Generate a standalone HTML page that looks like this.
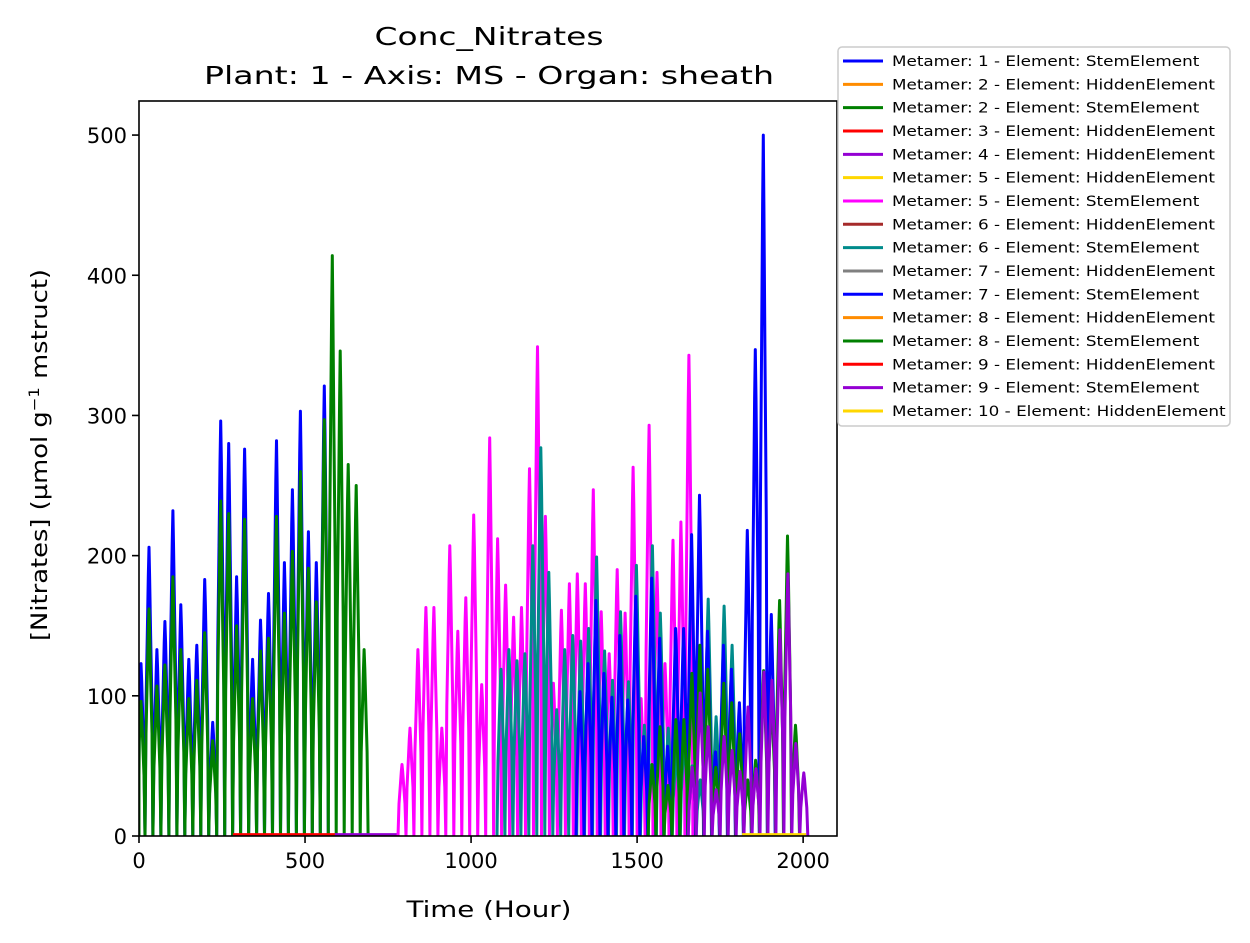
<!DOCTYPE html>
<html><head><meta charset="utf-8"><style>
body{margin:0;background:#fff;}
svg{display:block;font-family:"DejaVu Sans","Liberation Sans",sans-serif;}
</style></head><body>
<svg id="chart" width="1250" height="943" viewBox="0 0 1250 943" xmlns="http://www.w3.org/2000/svg">
<rect width="1250" height="943" fill="#fff"/>
<text x="489" y="45" text-anchor="middle" font-size="25" textLength="229" lengthAdjust="spacingAndGlyphs">Conc_Nitrates</text>
<text x="489" y="84" text-anchor="middle" font-size="25" textLength="570" lengthAdjust="spacingAndGlyphs">Plant: 1 - Axis: MS - Organ: sheath</text>
<defs><clipPath id="pc"><rect x="139" y="101" width="698" height="735"/></clipPath></defs>
<g id="series" clip-path="url(#pc)"></g>
<rect x="139" y="101" width="698" height="735" fill="none" stroke="#000" stroke-width="1.6"/>
<g id="axes"></g>
<text x="489" y="917" text-anchor="middle" font-size="22" textLength="165" lengthAdjust="spacingAndGlyphs">Time (Hour)</text>
<text transform="translate(47,455) rotate(-90)" text-anchor="middle" font-size="22" textLength="372" lengthAdjust="spacingAndGlyphs">[Nitrates] (µmol g<tspan dy="-8" font-size="14">−1</tspan><tspan dy="8"> mstruct)</tspan></text>
<rect x="838" y="47" width="392" height="379" rx="4" fill="#fff" stroke="#ccc" stroke-width="1.5"/>
<g id="legend"></g>
</svg>
<script>
const xTicks=[0,500,1000,1500,2000];
const yTicks=[0,100,200,300,400,500];
const legendLabels=["Metamer: 1 - Element: StemElement","Metamer: 2 - Element: HiddenElement","Metamer: 2 - Element: StemElement","Metamer: 3 - Element: HiddenElement","Metamer: 4 - Element: HiddenElement","Metamer: 5 - Element: HiddenElement","Metamer: 5 - Element: StemElement","Metamer: 6 - Element: HiddenElement","Metamer: 6 - Element: StemElement","Metamer: 7 - Element: HiddenElement","Metamer: 7 - Element: StemElement","Metamer: 8 - Element: HiddenElement","Metamer: 8 - Element: StemElement","Metamer: 9 - Element: HiddenElement","Metamer: 9 - Element: StemElement","Metamer: 10 - Element: HiddenElement"];
const legendColors=["#0000ff","#ff8c00","#008000","#ff0000","#9400d3","#ffd700","#ff00ff","#a52a2a","#008b8b","#808080","#0000ff","#ff8c00","#008000","#ff0000","#9400d3","#ffd700"];
const m1Start=6;
const m1Peaks=[123,206,133,153,232,165,126,136,183,81,296,280,185,276,126,154,173,282,195,247,303,217,195,321];
const m2Start=6;
const m2Peaks=[96,162,107,122,185,133,98,111,145,68,239,230,150,226,98,132,141,228,159,203,260,191,167,297,414,346,265,250,133];
const m5Start=792;
const m5Peaks=[51,77,133,163,163,77,207,146,170,229,108,284,212,179,156,163,262,349,228,109,161,180,187,180,247,160,130,190,159,263,98,293,188,123,211,224,343];
const m6Start=1090;
const m6Peaks=[119,133,125,130,207,277,188,90,133,143,139,148,199,132,111,160,110,193,79,207,159,77,60,70,50,40,169,85,164,136];
const m7Start=1328;
const m7Peaks=[103,123,168,116,99,143,97,171,71,184,141,64,148,148,215,243,146,60,136,119,95,218,347,500,158];
const m8Start=1545;
const m8Peaks=[51,78,36,83,83,116,136,119,49,109,95,73,40,54,118,100,168,214,79];
const m9Start=1666;
const m9Peaks=[49,102,78,33,71,61,46,92,48,117,111,147,187,66,45];
const m3Flat=[283,590,1];
const m4Flat=[590,783,1];
const m10Flat=[1816,2009,1];

const X0=139,X1=837,Y0=836,Y1=101,XMAX=2102,YMAX=524.3;
const sx=t=>X0+(t/XMAX)*(X1-X0);
const sy=v=>Y0-(v/YMAX)*(Y0-Y1);
const NS="http://www.w3.org/2000/svg";
const g=document.getElementById('series');
// daily cycle profile (hour offset, fraction of peak)
const cycOff=[-9,-5,-2,0,2,5,9];
const cycFrac=[0.45,0.7,0.9,1,0.9,0.7,0.45];
function spikePath(start,peaks){
  let d=`M${sx(Math.max(0,start-12)).toFixed(1)},${sy(0).toFixed(1)}`;
  peaks.forEach((p,i)=>{const t=start+i*24;
    cycOff.forEach((o,k)=>{const tt=Math.max(0,t+o);
      d+=` L${sx(tt).toFixed(1)},${sy(p*cycFrac[k]).toFixed(1)}`;});
    d+=` L${sx(t+12).toFixed(1)},${sy(0).toFixed(1)}`;});
  return d;
}
function addPath(d,color,name){
  const p=document.createElementNS(NS,'path');
  p.setAttribute('d',d);p.setAttribute('fill','none');p.setAttribute('stroke',color);
  p.setAttribute('stroke-width','3');p.setAttribute('stroke-linejoin','round');
  
  
  g.appendChild(p);
}
function flat(f){return `M${sx(f[0])},${sy(f[2])} L${sx(f[1])},${sy(f[2])}`;}
addPath(spikePath(m1Start,m1Peaks),"#0000ff","series-metamer1-stem");
addPath(spikePath(m2Start,m2Peaks),"#008000","series-metamer2-stem");
addPath(flat(m3Flat),"#ff0000","series-metamer3-hidden");
addPath(flat(m4Flat),"#9400d3","series-metamer4-hidden");
addPath(spikePath(m5Start,m5Peaks),"#ff00ff","series-metamer5-stem");
addPath(spikePath(m6Start,m6Peaks),"#008b8b","series-metamer6-stem");
addPath(spikePath(m7Start,m7Peaks),"#0000ff","series-metamer7-stem");
addPath(spikePath(m8Start,m8Peaks),"#008000","series-metamer8-stem");
addPath(spikePath(m9Start,m9Peaks),"#9400d3","series-metamer9-stem");
addPath(flat(m10Flat),"#ffd700","series-metamer10-hidden");

const ax=document.getElementById('axes');
xTicks.forEach(t=>{
  const l=document.createElementNS(NS,'line');
  l.setAttribute('x1',sx(t));l.setAttribute('x2',sx(t));l.setAttribute('y1',Y0);l.setAttribute('y2',Y0+7);
  l.setAttribute('stroke','#000');l.setAttribute('stroke-width','1.6');
  
  
  ax.appendChild(l);
  const tx=document.createElementNS(NS,'text');
  tx.setAttribute('x',sx(t));tx.setAttribute('y',Y0+32);tx.setAttribute('text-anchor','middle');tx.setAttribute('font-size','21');
  tx.textContent=t;
  
  
  ax.appendChild(tx);
});
yTicks.forEach(v=>{
  const l=document.createElementNS(NS,'line');
  l.setAttribute('x1',X0-7);l.setAttribute('x2',X0);l.setAttribute('y1',sy(v));l.setAttribute('y2',sy(v));
  l.setAttribute('stroke','#000');l.setAttribute('stroke-width','1.6');
  
  
  ax.appendChild(l);
  const tx=document.createElementNS(NS,'text');
  tx.setAttribute('x',X0-12);tx.setAttribute('y',sy(v)+8);tx.setAttribute('text-anchor','end');tx.setAttribute('font-size','21');
  tx.textContent=v;
  
  
  ax.appendChild(tx);
});
const lg=document.getElementById('legend');
legendLabels.forEach((lab,i)=>{
  const y=61+i*23.33;
  const l=document.createElementNS(NS,'line');
  l.setAttribute('x1',843);l.setAttribute('x2',883);l.setAttribute('y1',y);l.setAttribute('y2',y);
  l.setAttribute('stroke',legendColors[i]);l.setAttribute('stroke-width','3');
  
  
  lg.appendChild(l);
  const tx=document.createElementNS(NS,'text');
  tx.setAttribute('x',0);tx.setAttribute('y',0);tx.setAttribute('font-size','14');
  tx.setAttribute('transform',`translate(892,${y+5}) scale(1.2,1)`);
  tx.textContent=lab;
  
  
  lg.appendChild(tx);
});
</script>
</body></html>
